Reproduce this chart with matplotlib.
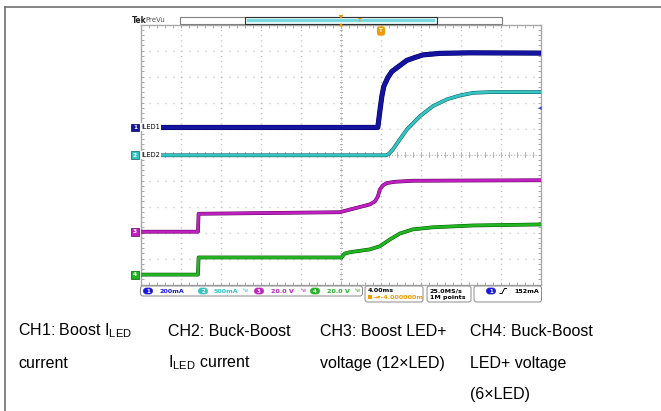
import matplotlib
matplotlib.use('Agg')
import matplotlib.pyplot as plt
import matplotlib.patheffects as pe
import matplotlib.transforms as mtransforms
from matplotlib.patches import Rectangle, FancyBboxPatch, Polygon
import numpy as np

plt.rcParams['font.family'] = ['Liberation Sans', 'DejaVu Sans']
plt.rcParams['mathtext.fontset'] = 'custom'
plt.rcParams['mathtext.rm'] = 'Liberation Sans'
plt.rcParams['lines.scale_dashes'] = False

# ---------------- data (time in ms, 4 ms/div; values in screen divisions) -------------
ch1_t = [-20, 3.7, 3.9, 4.1, 4.3, 4.7, 5.1, 5.9, 6.6, 7.4, 8.2, 9.9, 12.9, 20]
ch1_v = [1.04, 1.04, 1.65, 2.23, 2.62, 2.96, 3.19, 3.42, 3.62, 3.73, 3.83, 3.89, 3.91, 3.90]

ch2_t = [-20, 4.5, 4.8, 5.2, 5.9, 6.6, 7.9, 9.2, 10.6, 11.9, 13.2, 14.9, 20]
ch2_v = [-0.03, -0.03, 0.02, 0.19, 0.58, 0.96, 1.47, 1.86, 2.12, 2.27, 2.37, 2.40, 2.40]

ch3_t = [-20, -14.26, -14.2, -0.1, 0.9, 1.9, 2.9, 3.4, 3.7, 3.9, 4.2, 4.6, 5.4, 7.2, 20]
ch3_v = [-2.97, -2.97, -2.28, -2.22, -2.12, -2.02, -1.92, -1.81, -1.62, -1.35, -1.19, -1.10, -1.05, -1.01, -0.99]

ch4_t = [-20, -14.26, -14.2, 0.07, 0.4, 0.9, 2.9, 3.9, 4.4, 4.9, 5.9, 7.2, 9.2, 13.2, 20]
ch4_v = [-4.62, -4.62, -3.96, -3.96, -3.81, -3.76, -3.65, -3.53, -3.40, -3.27, -3.04, -2.88, -2.80, -2.73, -2.69]

channel_names = ['1', '2', '3', '4']
channel_labels = ['ILED1', 'ILED2', '', '']
channel_scales = ['200mA', '500mA', '20.0 V', '20.0 V']
trigger_level_mA = 152
ch1_mA_per_div = 200
timebase = '4.00ms'
h_delay = '-4.000000m'
sample_rate = '25.0MS/s'
record_len = '1M points'

caption_cols = [
    ['CH1: Boost I$_{\\mathregular{LED}}$', 'current'],
    ['CH2: Buck-Boost', 'I$_{\\mathregular{LED}}$ current'],
    ['CH3: Boost LED+', 'voltage (12\u00d7LED)'],
    ['CH4: Buck-Boost', 'LED+ voltage', '(6\u00d7LED)'],
]

colors = ['#1414a0', '#34c4c4', '#c020c0', '#22b422']
edge_colors = ['#00005a', '#0a5a5a', '#5a005a', '#005a00']

# ---------------- figure ----------------
W, H = 661, 411
fig = plt.figure(figsize=(W / 100, H / 100), dpi=100)
fig.patch.set_facecolor('white')

L, R, T, B = 140.5, 541.0, 24.5, 284.5
sc = fig.add_axes([L / W, 1 - B / H, (R - L) / W, (B - T) / H])
sc.set_xlim(-20, 20)
sc.set_ylim(-5, 5)
for s in sc.spines.values():
    s.set_color('#a8a8a8')
    s.set_linewidth(1.0)
sc.set_xticks(np.arange(-20, 20.01, 4))
sc.set_yticks(np.arange(-5, 5.01, 1))
sc.set_xticks(np.arange(-20, 20.01, 0.8), minor=True)
sc.set_yticks(np.arange(-5, 5.01, 0.2), minor=True)
sc.tick_params(which='both', direction='in', length=2, color='#a8a8a8', width=0.7,
               top=True, right=True, labelbottom=False, labelleft=False)

gcol = '#b4b4b4'
for x in np.arange(-16, 16.01, 4):
    sc.axvline(x, color=gcol, lw=1.0, ls=(0, (0.7, 3.04)), zorder=0)
for y in np.arange(-4, 4.01, 1):
    sc.axhline(y, color=gcol, lw=1.0, ls=(0, (0.7, 5.06)), zorder=0)
# centre cross with minor ticks
sc.axvline(0, color=gcol, lw=0.8, ls=(0, (0.7, 1.5)), zorder=0)
sc.axhline(0, color=gcol, lw=0.8, ls=(0, (0.7, 1.5)), zorder=0)
for x in np.arange(-20, 20.01, 0.8):
    sc.plot([x, x], [-0.08, 0.08], color=gcol, lw=0.7, zorder=0)
for y in np.arange(-5, 5.01, 0.2):
    sc.plot([-0.12, 0.12], [y, y], color=gcol, lw=0.7, zorder=0)

traces = [(ch1_t, ch1_v, 3.0), (ch2_t, ch2_v, 2.0), (ch3_t, ch3_v, 2.0), (ch4_t, ch4_v, 2.0)]
for (t, v, lw), c, ec in zip(traces, colors, edge_colors):
    sc.plot(t, v, color=c, lw=lw, solid_joinstyle='round', zorder=3,
            path_effects=[pe.Stroke(linewidth=lw + 0.7, foreground=ec), pe.Normal()])

# ---------------- overlay in pixel coordinates ----------------
ov = fig.add_axes([0, 0, 1, 1])
ov.set_xlim(0, W)
ov.set_ylim(H, 0)
ov.axis('off')
ov.set_zorder(5)
ov.patch.set_alpha(0)

# page frame
ov.plot([5, W], [7, 7], color='#707070', lw=1.2)
ov.plot([5, 5], [7, H], color='#707070', lw=1.2)

# header
ov.text(132, 20.5, 'Tek', fontsize=5.5, fontweight='bold', family='DejaVu Sans', va='center', color='#222222')
ov.text(145, 20.5, 'PreVu', fontsize=5, family='DejaVu Sans', va='center', color='#555555')
ov.add_patch(Rectangle((180, 17), 322, 7, fc='white', ec='#808080', lw=0.8))
ov.add_patch(Rectangle((245, 17), 192, 7, fc='#e4f8f8', ec='#303030', lw=0.8))
ov.add_patch(Rectangle((247, 19.3), 188, 2.4, fc='#7ad8e0', ec='none'))
ov.add_patch(Polygon([[338.5, 15], [343.5, 15], [341, 18.5]], closed=True, fc='#f09a00', ec='none'))
ov.add_patch(Polygon([[338.5, 26.5], [343.5, 26.5], [341, 23]], closed=True, fc='#f09a00', ec='none'))
ov.text(360, 21, 'T', fontsize=4, color='#f09a00', fontweight='bold', ha='center', va='center', family='DejaVu Sans')
ov.text(381, 31, 'T', fontsize=4, color='white', fontweight='bold', ha='center', va='center', family='DejaVu Sans',
        bbox=dict(boxstyle='round,pad=0.25', fc='#f09a00', ec='#f09a00'))

# channel ground markers (y from data)
blend = mtransforms.blended_transform_factory(ov.transData, sc.transData)
for i, (t, v, lw) in enumerate(traces):
    ov.text(135, v[0], channel_names[i], transform=blend, fontsize=4.2, color='white',
            fontweight='bold', ha='center', va='center', family='DejaVu Sans',
            bbox=dict(boxstyle='square,pad=0.25', fc=colors[i], ec=edge_colors[i], lw=0.5))
    if channel_labels[i]:
        ov.text(141, v[0], channel_labels[i], transform=blend, fontsize=4.8, color='black',
                ha='left', va='center', family='DejaVu Sans',
                bbox=dict(boxstyle='square,pad=0.15', fc='white', ec='none'))

# trigger level marker on right edge
trig_div = ch1_v[0] + trigger_level_mA / ch1_mA_per_div
ov.text(539.5, trig_div, '\u25c2', transform=blend, fontsize=5, color='#2040e0',
        ha='center', va='center', family='DejaVu Sans')

# status bar
def rbox(x0, y0, w, h):
    ov.add_patch(FancyBboxPatch((x0, y0), w, h, boxstyle='round,pad=0,rounding_size=2.5',
                                fc='white', ec='#8a8a8a', lw=0.7))

rbox(140.5, 286, 222, 10)
rbox(365, 286, 58, 16)
rbox(427, 286, 44, 16)
rbox(474, 286, 67.5, 16)

def pill(xc, yc, n, col):
    ov.add_patch(FancyBboxPatch((xc - 4.5, yc - 3), 9, 6, boxstyle='round,pad=0,rounding_size=3',
                                fc=col, ec=col, lw=0.5))
    ov.text(xc, yc + 0.2, n, fontsize=4, color='white', fontweight='bold', ha='center', va='center',
            family='DejaVu Sans')

pill_x = [148, 203, 259, 315]
scale_x = [160, 214, 271, 327]
bw_x = [None, 246, 304, 358]
for i in range(4):
    pill(pill_x[i], 291, channel_names[i], colors[i] if i != 0 else '#1818d8')
    ov.text(scale_x[i], 291, channel_scales[i], fontsize=4.6, color=colors[i] if i != 0 else '#1818d8',
            fontweight='bold', ha='left', va='center', family='DejaVu Sans')
    if bw_x[i]:
        ov.text(bw_x[i], 290.5, '\u1d47w', fontsize=3.5, color=colors[i], ha='center', va='center',
                family='DejaVu Sans')

ov.text(368, 290.5, timebase, fontsize=4.6, color='black', fontweight='bold', ha='left', va='center',
        family='DejaVu Sans')
ov.add_patch(Rectangle((367.5, 295.2), 4, 4, fc='#f09a00', ec='none'))
ov.text(372.5, 297.5, '\u2192\u25be' + h_delay, fontsize=4.6, color='#f09a00', fontweight='bold',
        ha='left', va='center', family='DejaVu Sans')
ov.text(430, 290.5, sample_rate, fontsize=4.6, color='black', fontweight='bold', ha='left', va='center',
        family='DejaVu Sans')
ov.text(430, 297.5, record_len, fontsize=4.6, color='black', fontweight='bold', ha='left', va='center',
        family='DejaVu Sans')
pill(491, 291, '1', '#1818d8')
ov.plot([500, 502, 504.5, 506.5], [293.5, 293.5, 288.5, 288.5], color='black', lw=0.7)
ov.text(539, 291, f'{trigger_level_mA}mA', fontsize=4.6, color='black', fontweight='bold', ha='right',
        va='center', family='DejaVu Sans')

# caption table
col_x = [18, 168, 320, 470]
row_y = [331, 363, 394]
for cx, lines in zip(col_x, caption_cols):
    for ry, s in zip(row_y, lines):
        ov.text(cx, ry, s, fontsize=11.5, color='black', ha='left', va='center')

fig.savefig('out.png', dpi=100, facecolor='white')
